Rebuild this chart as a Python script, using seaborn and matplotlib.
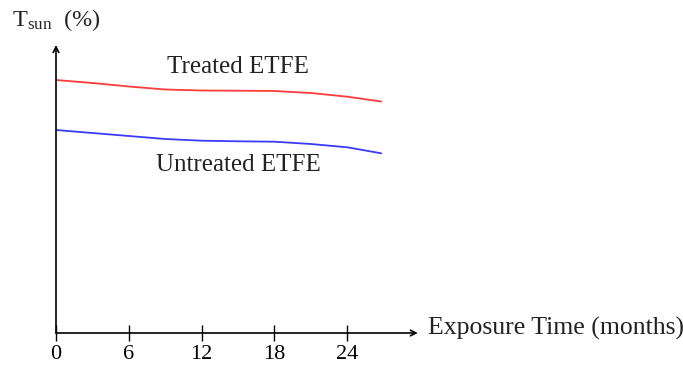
import matplotlib
matplotlib.use("Agg")
import matplotlib.pyplot as plt
import pandas as pd
import seaborn as sns

# ---- Data (arbitrary y units) ----------------------------------------------
months = [0, 3, 6, 9, 12, 15, 18, 21, 24, 26.8]
treated = [253, 250, 246.5, 243.5, 242.5, 242.3, 242, 240, 236.3, 231.5]
untreated = [203, 200, 197, 194, 192.3, 191.7, 191.3, 189, 185.7, 179.7]
tick_months = [0, 6, 12, 18, 24]

df = pd.concat([
    pd.DataFrame({"month": months, "tsun": treated, "series": "Treated ETFE"}),
    pd.DataFrame({"month": months, "tsun": untreated, "series": "Untreated ETFE"}),
])

sns.set_style("white")
plt.rcParams["font.family"] = ["Liberation Serif", "DejaVu Serif"]
plt.rcParams["mathtext.fontset"] = "custom"
plt.rcParams["mathtext.rm"] = "Liberation Serif"
plt.rcParams["text.color"] = "#222222"

fig = plt.figure(figsize=(6.83, 3.66), dpi=100)
ax = fig.add_axes([56 / 683, 33 / 366, 364 / 683, 288 / 366])

sns.lineplot(data=df, x="month", y="tsun", hue="series",
             palette={"Treated ETFE": "#ff3b3b", "Untreated ETFE": "#3b3bff"},
             linewidth=1.3, legend=False, ax=ax)

ax.set_xlim(0, 30)
ax.set_ylim(0, 288)
ax.set_xticks(tick_months)
ax.set_xticklabels([str(m) for m in tick_months], fontsize=16, color="#222222")
ax.set_yticks([])
ax.tick_params(axis="x", direction="inout", length=11, width=1, pad=3,
               bottom=True, colors="black")
ax.set_xlabel("")
ax.set_ylabel("")
for s in ax.spines.values():
    s.set_visible(False)

# axes drawn as arrows
arrow = dict(arrowstyle="->", lw=1.2, color="black", shrinkA=0, shrinkB=0)
ax.annotate("", xy=(0.994, 0), xytext=(0, 0), xycoords="axes fraction",
            arrowprops=arrow, annotation_clip=False)
ax.annotate("", xy=(0, 1.0), xytext=(0, 0), xycoords="axes fraction",
            arrowprops=arrow, annotation_clip=False)

# labels
fig.text(428 / 683, 1 - 328 / 366, "Exposure Time (months)", fontsize=18.5,
         ha="left", va="center")
fig.text(12 / 683, 1 - 20 / 366, r"$\mathregular{T_{sun}}$  (%)", fontsize=17.5,
         ha="left", va="center")
ax.text(15.0, 333 - 67, "Treated ETFE", fontsize=18, ha="center", va="center")
ax.text(15.0, 333 - 165, "Untreated ETFE", fontsize=18, ha="center", va="center")

fig.savefig("out.png", dpi=100)
